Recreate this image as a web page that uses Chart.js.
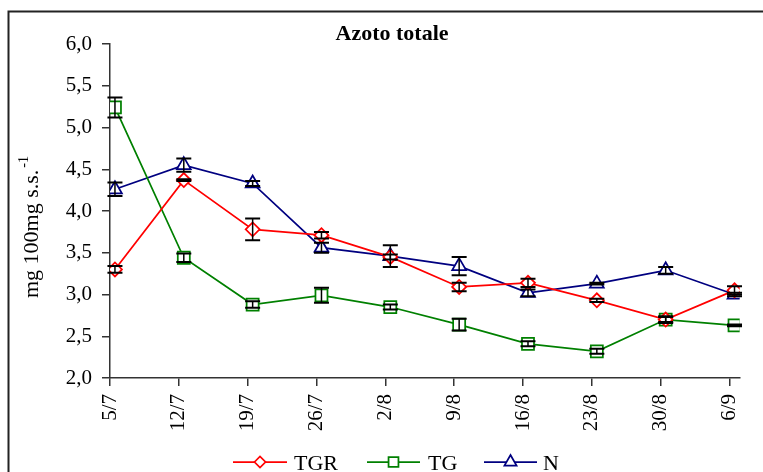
<!DOCTYPE html>
<html>
<head>
<meta charset="utf-8">
<style>
  html, body { margin: 0; padding: 0; background: #fff; }
  canvas { display: block; }
</style>
<script src="https://cdn.jsdelivr.net/npm/chart.js@4.4.1/dist/chart.umd.min.js"></script>
</head>
<body>
<canvas id="chart" width="763" height="472"></canvas>
<script>
// Sampling dates
const dates = ['5/7', '12/7', '19/7', '26/7', '2/8', '9/8', '16/8', '23/8', '30/8', '6/9'];

// Total nitrogen, mg 100mg s.s.^-1, with standard errors
const tgr    = [3.30, 4.37, 3.78, 3.71, 3.45, 3.09, 3.14, 2.93, 2.70, 3.05];
const tgrErr = [0.04, 0.01, 0.13, 0.04, 0.03, 0.05, 0.05, 0.02, 0.04, 0.05];
const tg     = [5.24, 3.44, 2.88, 2.99, 2.85, 2.64, 2.41, 2.32, 2.70, 2.63];
const tgErr  = [0.12, 0.05, 0.04, 0.09, 0.03, 0.07, 0.03, 0.03, 0.03, 0.01];
const nTot   = [4.26, 4.55, 4.33, 3.56, 3.46, 3.34, 3.02, 3.13, 3.29, 3.00];
const nErr   = [0.08, 0.08, 0.03, 0.06, 0.13, 0.11, 0.04, 0.01, 0.04, 0.02];

const seriesNames = ['TGR', 'TG', 'N'];
const yMin = 2.0, yMax = 6.0, yStep = 0.5;

const SERIF = '"Liberation Serif", "Times New Roman", serif';
const AXIS = '#333333';
const TICK_SHIFT = 0.072;   // tick marks sit just left of each sample point

const toPoints = arr => arr.map((v, i) => ({ x: i, y: v }));

const seriesStyle = [
  { color: '#ff0000', pointStyle: 'rectRot', radius: 7,   legendRadius: 5.5, err: tgrErr },
  { color: '#008000', pointStyle: 'rect',    radius: 8.5, legendRadius: 7,   err: tgErr },
  { color: '#000080', pointStyle: 'triangle',radius: 8,   legendRadius: 7,   err: nErr }
];
const seriesValues = [tgr, tg, nTot];

const datasets = seriesValues.map((vals, k) => ({
  label: seriesNames[k],
  data: toPoints(vals),
  errors: seriesStyle[k].err,
  borderColor: seriesStyle[k].color,
  borderWidth: 1.75,
  pointStyle: seriesStyle[k].pointStyle,
  pointRadius: seriesStyle[k].radius,
  pointBorderColor: seriesStyle[k].color,
  pointBackgroundColor: '#ffffff',
  pointBorderWidth: 1.75,
  tension: 0,
  fill: false
}));

// Outer frame (left and top edges)
const framePlugin = {
  id: 'frame',
  beforeDraw(chart) {
    const ctx = chart.ctx;
    ctx.save();
    ctx.fillStyle = '#ffffff';
    ctx.fillRect(0, 0, chart.width, chart.height);
    ctx.strokeStyle = '#222222';
    ctx.lineWidth = 2;
    ctx.beginPath();
    ctx.moveTo(8.5, chart.height + 2);
    ctx.lineTo(8.5, 11.5);
    ctx.lineTo(chart.width + 2, 11.5);
    ctx.stroke();
    ctx.restore();
  }
};

// Chart title and rotated y-axis title with superscript
const titlesPlugin = {
  id: 'titles',
  afterDraw(chart) {
    const ctx = chart.ctx;
    ctx.save();
    ctx.fillStyle = '#000000';
    ctx.font = 'bold 22px ' + SERIF;
    ctx.textAlign = 'center';
    ctx.textBaseline = 'alphabetic';
    ctx.fillText('Azoto totale', 392, 40);

    const main = 'mg 100mg s.s.';
    const sup = '-1';
    ctx.font = '22px ' + SERIF;
    const wMain = ctx.measureText(main).width;
    ctx.font = '14px ' + SERIF;
    const wSup = ctx.measureText(sup).width;
    const total = wMain + 2 + wSup;
    ctx.translate(38, 227);
    ctx.rotate(-Math.PI / 2);
    ctx.textAlign = 'left';
    ctx.font = '22px ' + SERIF;
    ctx.fillText(main, -total / 2, 0);
    ctx.font = '14px ' + SERIF;
    ctx.fillText(sup, -total / 2 + wMain + 2, -10);
    ctx.restore();
  }
};

// Vertical error bars with caps
const errorBarsPlugin = {
  id: 'errorBars',
  afterDatasetsDraw(chart) {
    const ctx = chart.ctx;
    const yScale = chart.scales.y;
    ctx.save();
    ctx.strokeStyle = '#000000';
    chart.data.datasets.forEach((ds, di) => {
      const meta = chart.getDatasetMeta(di);
      meta.data.forEach((pt, i) => {
        const v = ds.data[i].y;
        const e = ds.errors[i];
        const yTop = yScale.getPixelForValue(v + e);
        const yBot = yScale.getPixelForValue(v - e);
        const x = pt.x;
        ctx.lineWidth = 1.5;
        ctx.beginPath();
        ctx.moveTo(x, yTop);
        ctx.lineTo(x, yBot);
        ctx.stroke();
        ctx.lineWidth = 2;
        ctx.beginPath();
        ctx.moveTo(x - 7.5, yTop);
        ctx.lineTo(x + 7.5, yTop);
        ctx.moveTo(x - 7.5, yBot);
        ctx.lineTo(x + 7.5, yBot);
        ctx.stroke();
      });
    });
    ctx.restore();
  }
};

// Legend: line sample with marker, then the series name
const legendPlugin = {
  id: 'lineLegend',
  afterDraw(chart) {
    const ctx = chart.ctx;
    const items = [
      { x0: 233, x1: 287, tx: 294 },
      { x0: 367, x1: 420, tx: 428 },
      { x0: 484, x1: 537, tx: 543 }
    ];
    const y = 462;
    ctx.save();
    chart.data.datasets.forEach((ds, k) => {
      const it = items[k];
      const st = seriesStyle[k];
      ctx.strokeStyle = st.color;
      ctx.lineWidth = 1.75;
      ctx.beginPath();
      ctx.moveTo(it.x0, y);
      ctx.lineTo(it.x1, y);
      ctx.stroke();
      ctx.fillStyle = '#ffffff';
      ctx.strokeStyle = st.color;
      ctx.lineWidth = 1.75;
      Chart.helpers.drawPoint(ctx, {
        pointStyle: st.pointStyle,
        radius: st.legendRadius,
        rotation: 0,
        borderWidth: 1.75
      }, (it.x0 + it.x1) / 2, y);
      ctx.fillStyle = '#000000';
      ctx.font = '22px ' + SERIF;
      ctx.textAlign = 'left';
      ctx.textBaseline = 'alphabetic';
      ctx.fillText(ds.label, it.tx, 470);
    });
    ctx.restore();
  }
};

new Chart(document.getElementById('chart'), {
  type: 'line',
  data: { datasets },
  options: {
    responsive: false,
    animation: false,
    devicePixelRatio: 1,
    events: [],
    layout: { padding: { top: 44, right: 15, left: 0, bottom: 0 } },
    plugins: {
      legend: { display: false },
      title: { display: false },
      tooltip: { enabled: false }
    },
    scales: {
      x: {
        type: 'linear',
        min: -TICK_SHIFT,
        max: 9.075,
        afterBuildTicks(scale) {
          scale.ticks = dates.map((d, i) => ({ value: i - TICK_SHIFT }));
        },
        afterFit(scale) { scale.height = 94; },
        ticks: {
          autoSkip: false,
          minRotation: 90,
          maxRotation: 90,
          padding: 8,
          color: '#000000',
          font: { family: SERIF, size: 21 },
          callback: (value, index) => dates[index]
        },
        grid: {
          display: true,
          drawOnChartArea: false,
          drawTicks: true,
          tickLength: 8,
          color: AXIS,
          lineWidth: 1.5
        },
        border: { display: true, color: AXIS, width: 1.5 }
      },
      y: {
        min: yMin,
        max: yMax,
        afterFit(scale) { scale.width = 110; },
        ticks: {
          stepSize: yStep,
          padding: 10,
          color: '#000000',
          font: { family: SERIF, size: 21 },
          callback: v => v.toFixed(1).replace('.', ',')
        },
        grid: {
          display: true,
          drawOnChartArea: false,
          drawTicks: true,
          tickLength: 8,
          color: AXIS,
          lineWidth: 1.5
        },
        border: { display: true, color: AXIS, width: 1.5 }
      }
    }
  },
  plugins: [framePlugin, titlesPlugin, errorBarsPlugin, legendPlugin]
});
</script>
</body>
</html>
